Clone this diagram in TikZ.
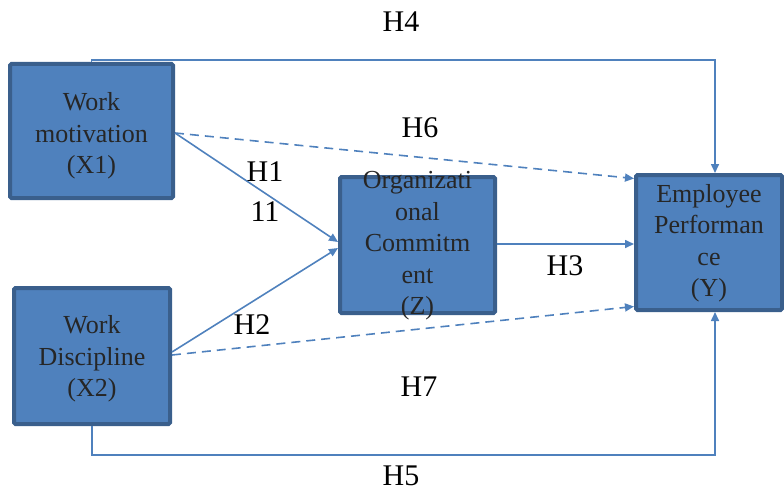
\documentclass[tikz,border=0pt]{standalone}
\usepackage{fontspec}
\setmainfont{Liberation Serif}
\usetikzlibrary{arrows.meta}
\definecolor{boxfill}{RGB}{79,129,189}
\definecolor{boxedge}{RGB}{58,95,140}
\definecolor{conncol}{RGB}{79,129,189}
\tikzset{
  box/.style={draw=boxedge, fill=boxfill, line width=4pt, rounded corners=1.5pt, inner sep=0pt},
  boxtext/.style={align=center, inner sep=0pt, text=black!85, font=\fontsize{26}{31.5}\selectfont},
  hlabel/.style={inner sep=0pt, font=\fontsize{30}{36}\selectfont},
  conn/.style={draw=conncol, line width=1.6pt, -{Triangle[length=9pt,width=8pt]}},
  dconn/.style={conn, dash pattern=on 9pt off 6pt},
}
\begin{document}
\begin{tikzpicture}[x=1pt,y=-1pt]
\useasboundingbox (0,0) rectangle (784,492);
% boxes
\node[box, minimum width=163, minimum height=134] (x1) at (91.5,131) {};
\node[box, minimum width=156, minimum height=136] (x2) at (92,356) {};
\node[box, minimum width=155, minimum height=136] (z) at (417.5,245) {};
\node[box, minimum width=146, minimum height=135] (y) at (709,242.5) {};
% box texts
\node[boxtext] (tx1) at (91.5,136) {Work\\motivation\\(X1)};
\node[boxtext] (tx2) at (92,359) {Work\\Discipline\\(X2)};
\node[boxtext] (tz) at (417.5,246) {Organizati\\onal\\Commitm\\ent\\(Z)};
\node[boxtext] (ty) at (709,243) {Employee\\Performan\\ce\\(Y)};
% connectors
\draw[conn] (x1.north) -- ++(0,-2) -| ([xshift=6pt]y.north);
\draw[conn] (x2.south) -- ++(0,29) -| ([xshift=6pt]y.south);
\draw[dconn] ([yshift=-2pt]x1.east) -- ([yshift=64pt]y.west);
\draw[conn] ([yshift=-2pt]x1.east) -- ([yshift=3pt]z.west);
\draw[conn] ([yshift=4pt]x2.east) -- ([yshift=-3pt]z.west);
\draw[dconn] ([yshift=1pt]x2.east) -- ([yshift=-64pt]y.west);
\draw[conn] ([yshift=1pt]z.east) -- ([yshift=1pt]z.east -| y.west);
% labels
\node[hlabel] (h4) at (401,22) {H4};
\node[hlabel] (h6) at (420,128) {H6};
\node[hlabel] (h1) at (265,172) {H1};
\node[hlabel] (h11) at (265,212) {11};
\node[hlabel] (h3) at (565,266) {H3};
\node[hlabel] (h2) at (252,325) {H2};
\node[hlabel] (h7) at (419,387) {H7};
\node[hlabel] (h5) at (401,476) {H5};
\end{tikzpicture}
\end{document}
